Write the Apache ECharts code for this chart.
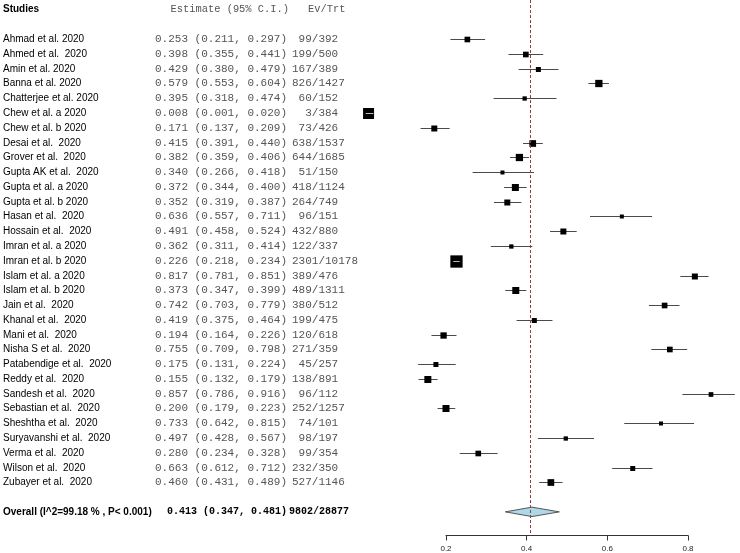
<!DOCTYPE html>
<html>
<head>
<meta charset="utf-8">
<script src="https://cdn.jsdelivr.net/npm/echarts@6/dist/echarts.min.js"></script>
<style>html,body{margin:0;padding:0;background:#fff}#c{width:740px;height:553px}</style>
</head>
<body>
<div id="c"></div>
<script>
var studies = ["Ahmad et al. 2020","Ahmed et al.  2020","Amin et al. 2020","Banna et al. 2020","Chatterjee et al. 2020","Chew et al. a 2020","Chew et al. b 2020","Desai et al.  2020","Grover et al.  2020","Gupta AK et al.  2020","Gupta et al. a 2020","Gupta et al. b 2020","Hasan et al.  2020","Hossain et al.  2020","Imran et al. a 2020","Imran et al. b 2020","Islam et al. a 2020","Islam et al. b 2020","Jain et al.  2020","Khanal et al.  2020","Mani et al.  2020","Nisha S et al.  2020","Patabendige et al.  2020","Reddy et al.  2020","Sandesh et al.  2020","Sebastian et al.  2020","Sheshtha et al.  2020","Suryavanshi et al.  2020","Verma et al.  2020","Wilson et al.  2020","Zubayer et al.  2020"];
var estimates = [0.253,0.398,0.429,0.579,0.395,0.008,0.171,0.415,0.382,0.340,0.372,0.352,0.636,0.491,0.362,0.226,0.817,0.373,0.742,0.419,0.194,0.755,0.175,0.155,0.857,0.200,0.733,0.497,0.280,0.663,0.460];
var lower = [0.211,0.355,0.380,0.553,0.318,0.001,0.137,0.391,0.359,0.266,0.344,0.319,0.557,0.458,0.311,0.218,0.781,0.347,0.703,0.375,0.164,0.709,0.131,0.132,0.786,0.179,0.642,0.428,0.234,0.612,0.431];
var upper = [0.297,0.441,0.479,0.604,0.474,0.020,0.209,0.440,0.406,0.418,0.400,0.387,0.711,0.524,0.414,0.234,0.851,0.399,0.779,0.464,0.226,0.798,0.224,0.179,0.916,0.223,0.815,0.567,0.328,0.712,0.489];
var events = [99,199,167,826,60,3,73,638,644,51,418,264,96,432,122,2301,389,489,380,199,120,271,45,138,96,252,74,98,99,232,527];
var totals = [392,500,389,1427,152,384,426,1537,1685,150,1124,749,151,880,337,10178,476,1311,512,475,618,359,257,891,112,1257,101,197,354,350,1146];
// relative study weights
var weights = [32,32,25,53,18.5,121,36,45,53,16,49,36,16,36,18.5,151,36,49,32,25,40,32,25,49,22,49,16,18.5,32,25,45];
var overall = {label: "Overall (I^2=99.18 % , P< 0.001)", est: 0.413, lo: 0.347, hi: 0.481, ev: 9802, n: 28877};
var xTicks = [0.2, 0.4, 0.6, 0.8];
var headers = {study: "Studies", est: "Estimate (95% C.I.)", evt: "Ev/Trt"};

var SANS = "'Liberation Sans', Arial, sans-serif";
var MONO = "'Liberation Mono', 'Courier New', monospace";

function f3(v){ return v.toFixed(3); }

var rows = studies.map(function(s, i){
  return [i, estimates[i], lower[i], upper[i], weights[i]];
});

function renderStudy(params, api){
  var i = api.value(0);
  var est = api.value(1), lo = api.value(2), hi = api.value(3), w = api.value(4);
  var pE = api.coord([est, i]);
  var pL = api.coord([lo, i]);
  var pH = api.coord([hi, i]);
  var y = Math.round(pE[1]) + 0.5;
  var side = Math.sqrt(w);
  var children = [];
  var inside = (pH[0] - pL[0]) <= side;
  if (!inside) {
    children.push({type:'line', shape:{x1:pL[0], y1:y, x2:pH[0], y2:y}, style:{stroke:'#4a4a4a', lineWidth:1}});
  }
  children.push({type:'rect', shape:{x:pE[0]-side/2, y:y-side/2, width:side, height:side}, style:{fill:'#000'}});
  if (inside) {
    children.push({type:'line', shape:{x1:pL[0], y1:y, x2:pH[0], y2:y}, style:{stroke:'#bbb', lineWidth:1}});
  }
  children.push({type:'text', style:{x:3, y:y, text:studies[i], font:'10px ' + SANS, fill:'#000', verticalAlign:'middle', align:'left'}});
  children.push({type:'text', style:{x:287, y:y, text:f3(est) + ' (' + f3(lo) + ', ' + f3(hi) + ')', font:'11px ' + MONO, fill:'#555', verticalAlign:'middle', align:'right'}});
  var evt = (events[i] + '/' + totals[i]);
  while (evt.length < 7) evt = ' ' + evt;
  children.push({type:'text', style:{x:292, y:y, text:evt, font:'11px ' + MONO, fill:'#555', verticalAlign:'middle', align:'left'}});
  return {type:'group', children:children};
}

function renderOverall(params, api){
  var r = api.value(0);
  var pE = api.coord([api.value(1), r]);
  var pL = api.coord([api.value(2), r]);
  var pH = api.coord([api.value(3), r]);
  var y = pE[1];
  var h = 4.7;
  return {type:'group', children:[
    {type:'polygon', shape:{points:[[pL[0], y],[pE[0], y-h],[pH[0], y],[pE[0], y+h]]}, style:{fill:'#add8e6', stroke:'#555', lineWidth:1}},
    {type:'text', style:{x:3, y:y, text:overall.label, font:'bold 10px ' + SANS, fill:'#000', verticalAlign:'middle', align:'left'}},
    {type:'text', style:{x:287, y:y, text:f3(overall.est) + ' (' + f3(overall.lo) + ', ' + f3(overall.hi) + ')', font:'bold 10px ' + MONO, fill:'#000', verticalAlign:'middle', align:'right'}},
    {type:'text', style:{x:289, y:y, text:overall.ev + '/' + overall.n, font:'bold 10px ' + MONO, fill:'#000', verticalAlign:'middle', align:'left'}}
  ]};
}

function renderHeader(params, api){
  var p = api.coord([0.2, api.value(0)]);
  var y = p[1];
  return {type:'group', children:[
    {type:'text', style:{x:3, y:y, text:headers.study, font:'bold 10px ' + SANS, fill:'#000', verticalAlign:'middle', align:'left'}},
    {type:'text', style:{x:289, y:y, text:headers.est, font:'10.4px ' + MONO, fill:'#555', verticalAlign:'middle', align:'right'}},
    {type:'text', style:{x:308, y:y, text:headers.evt, font:'10.4px ' + MONO, fill:'#555', verticalAlign:'middle', align:'left'}}
  ]};
}

var chart = echarts.init(document.getElementById('c'), null, {renderer:'canvas'});
chart.setOption({
  animation:false,
  backgroundColor:'#fff',
  grid:{left:446, right:52, top:0, bottom:17.5, containLabel:false},
  xAxis:{type:'value', min:xTicks[0], max:xTicks[xTicks.length-1], interval:0.2,
    splitLine:{show:false},
    axisLine:{show:true, onZero:false, lineStyle:{color:'#333', width:1}},
    axisTick:{show:true, inside:false, length:5, lineStyle:{color:'#333'}},
    axisLabel:{fontSize:8, color:'#222', margin:9, fontFamily:SANS, formatter:function(v){return v.toFixed(1);}}
  },
  yAxis:{type:'value', inverse:true, min:-2.65, max:33.6, show:false},
  series:[
    {type:'custom', clip:false, renderItem:renderHeader, data:[[-2]], silent:true},
    {type:'custom', clip:false, renderItem:renderStudy, data:rows, silent:true,
      markLine:{silent:true, symbol:['none','none'], label:{show:false},
        lineStyle:{color:'#943b3b', type:[3,2], width:1},
        data:[{xAxis:overall.est}]}},
    {type:'custom', clip:false, renderItem:renderOverall, data:[[32, overall.est, overall.lo, overall.hi]], silent:true}
  ]
});
</script>
</body>
</html>
